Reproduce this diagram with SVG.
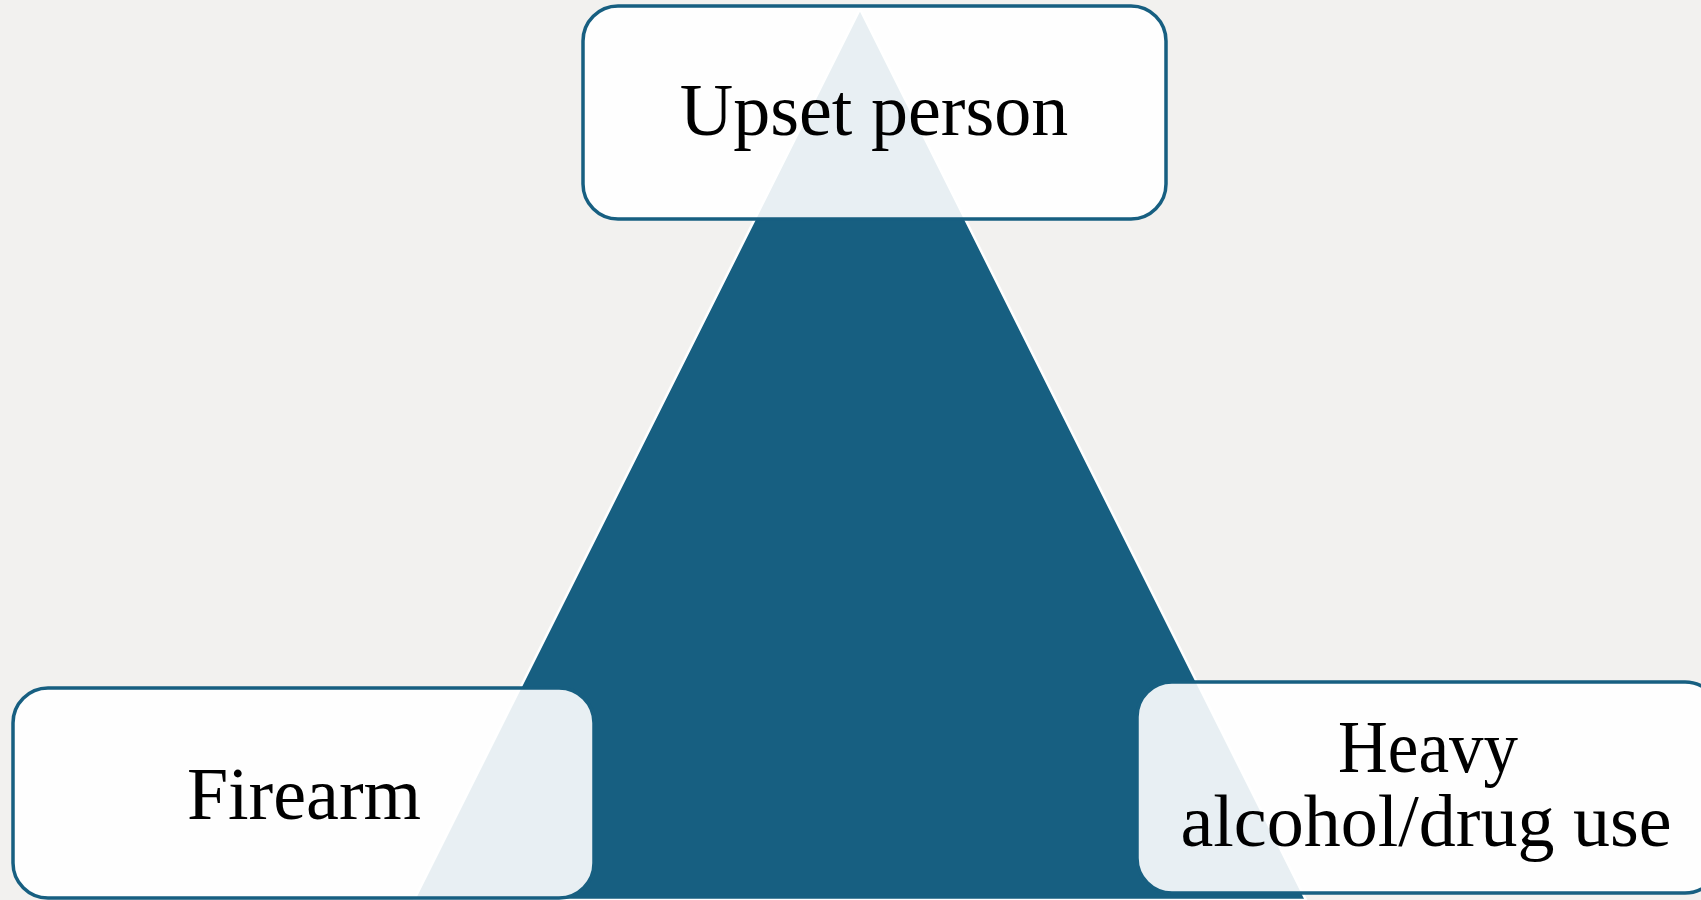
<svg xmlns="http://www.w3.org/2000/svg" width="1701" height="900" viewBox="0 0 1701 900">
<style>
.box{fill:#ffffff;fill-opacity:0.9;stroke:#175f81;stroke-width:3.5}
.lbl{font-family:"Liberation Serif","Times New Roman",serif;font-size:74px;fill:#000000;text-anchor:middle}
</style>
<rect x="0" y="0" width="1701" height="900" fill="#f2f1ef"/>
<g id="triangle">
<polygon points="860,9 1306,900 414,900" fill="#175f81" stroke="#ffffff" stroke-width="2.5" stroke-linejoin="miter"/>
</g>
<g id="connectors"/>
<g id="node-upset">
<rect class="box" x="583" y="6" width="583" height="213" rx="35" ry="35"/>
<text class="lbl" x="874" y="135">Upset person</text>
</g>
<g id="node-firearm">
<rect class="box" x="13" y="688" width="581" height="210" rx="35" ry="35"/>
<text class="lbl" x="304" y="819">Firearm</text>
</g>
<g id="node-alcohol">
<rect class="box" x="1137" y="682" width="583" height="211" rx="35" ry="35"/>
<text class="lbl" x="1428" y="772" textLength="180" lengthAdjust="spacingAndGlyphs">Heavy</text>
<text class="lbl" x="1426" y="846">alcohol/drug use</text>
</g>
</svg>
